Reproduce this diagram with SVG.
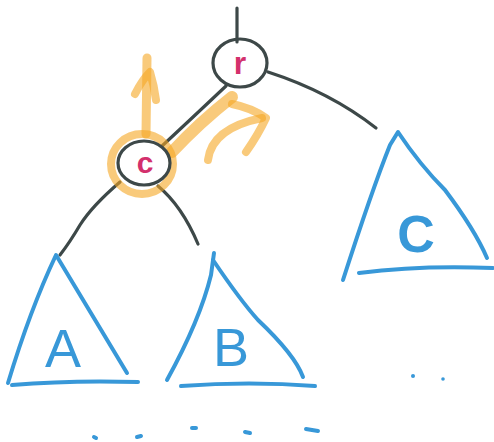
<svg xmlns="http://www.w3.org/2000/svg" width="494" height="442" viewBox="0 0 494 442">
<style>
.ink{fill:none;stroke:#3d4848;stroke-width:3.2;stroke-linecap:round;stroke-linejoin:round}
.blue{fill:none;stroke:#3898d8;stroke-width:4;stroke-linecap:round;stroke-linejoin:round}
.hl{fill:none;stroke:#f5a623;stroke-opacity:0.6;stroke-linecap:round;stroke-linejoin:round}
.lbl{font-family:"Liberation Sans",Arial,sans-serif;fill:#d3306c;text-anchor:middle;font-weight:bold}
.big{font-family:"Liberation Sans",Arial,sans-serif;fill:#3898d8;text-anchor:middle}
</style>
<rect width="494" height="442" fill="#ffffff"/>
<g id="connectors">
<path class="ink" d="M237,8 L237,42"/>
<path class="ink" d="M268,72 Q330,92 376,128"/>
<path class="ink" d="M226,86 Q190,120 162,146"/>
<path class="ink" d="M120,182 Q92,206 80,225 Q70,242 60,255"/>
<path class="ink" d="M158,186 Q182,206 198,244"/>
</g>
<g id="highlight">
<path class="hl" stroke-width="12" d="M232,97 Q200,122 172,152"/>
<ellipse class="hl" stroke-width="8" cx="142" cy="164" rx="31" ry="30"/>
<path class="hl" stroke-width="9" d="M146,134 L147,58"/>
<path class="hl" stroke-width="8" d="M135,94 Q142,80 150,72 Q154,85 156,100"/>
<path class="hl" stroke-width="8" d="M208,160 Q212,128 262,118"/>
<path class="hl" stroke-width="8" d="M232,104 Q252,108 266,118 Q258,135 246,152"/>
</g>
<g id="node-r">
<ellipse class="ink" cx="240" cy="63" rx="27" ry="24"/>
<text class="lbl" x="240" y="74" font-size="32">r</text>
</g>
<g id="node-c">
<ellipse class="ink" cx="144" cy="163" rx="26" ry="22"/>
<text class="lbl" x="145" y="173" font-size="30">c</text>
</g>
<g id="tree-A">
<path class="blue" d="M8,383 Q30,310 56,255 Q95,320 127,373"/>
<path class="blue" d="M12,385 Q70,380 138,382"/>
<text class="big" x="63" y="367" font-size="54">A</text>
</g>
<g id="tree-B">
<path class="blue" d="M167,380 Q200,320 211,275 L214,253"/>
<path class="blue" d="M213,260 Q240,300 258,320 Q295,355 303,377"/>
<path class="blue" d="M181,386 Q250,381 315,386"/>
<text class="big" x="231" y="366" font-size="54">B</text>
</g>
<g id="tree-C">
<path class="blue" d="M343,280 Q372,190 390,145 L398,132 Q420,165 445,190 Q475,230 487,258"/>
<path class="blue" d="M359,273 Q420,265 493,268"/>
<text class="big" x="416" y="252" font-size="52" font-weight="bold">C</text>
</g>
<g id="dots">
<circle cx="413" cy="376" r="2" fill="#3898d8"/>
<circle cx="443" cy="379" r="1.8" fill="#3898d8"/>
<path class="blue" stroke-width="3" d="M94,437 L96,438 M137,437 L141,436 M192,428 L196,428 M245,432 L250,433 M306,429 L318,431"/>
</g>
</svg>
